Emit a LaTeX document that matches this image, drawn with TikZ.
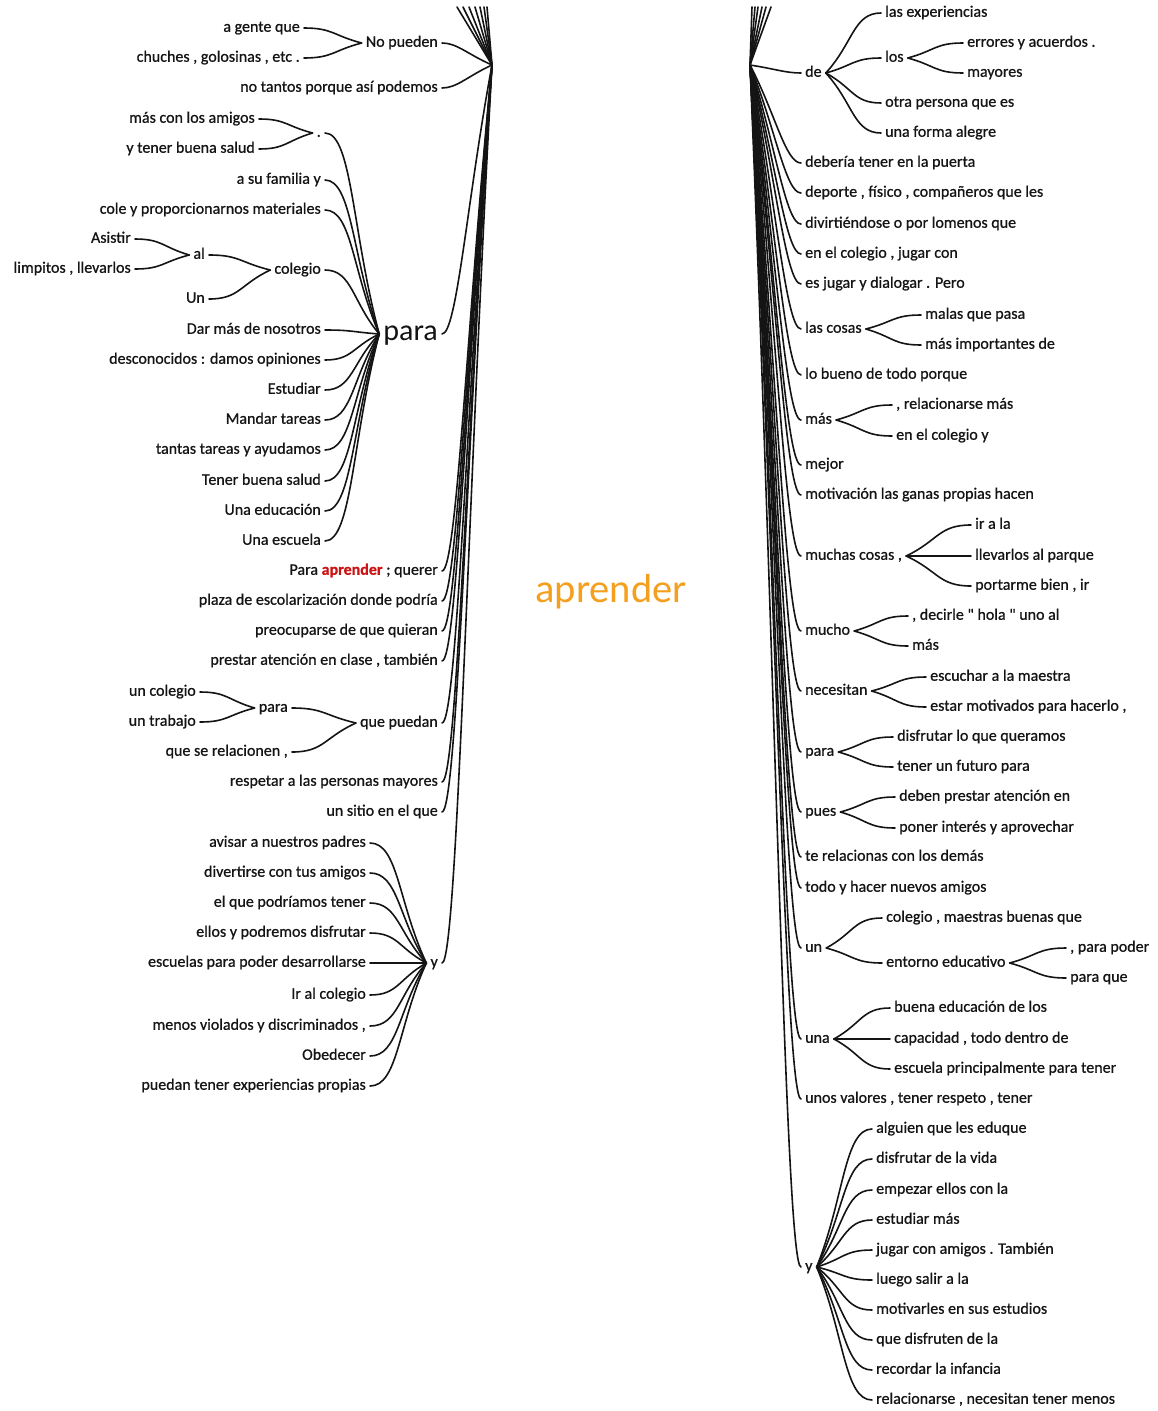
\documentclass[tikz,border=0pt]{standalone}
\usepackage{fontspec}
\setmainfont{Carlito}[FakeBold=0.8]
\newfontfamily\plainfont{Carlito}
\usetikzlibrary{calc}
\definecolor{aprcol}{RGB}{244,160,30}
\definecolor{redw}{RGB}{205,20,20}
\definecolor{ink}{RGB}{20,20,20}
\newcommand\lk[3][0.5]{\draw[lnk] (#2) .. controls ($(#2)!0.5!(#3)$) and ($(#2|-#3)!#1!(#3)$) .. (#3);}
\newcommand\sq{{\addfontfeatures{Ligatures=TeXOff}"}}
\begin{document}
\begin{tikzpicture}[x=1pt,y=-1pt,
 tx/.style={inner xsep=4pt, inner ysep=0pt, text height=11pt, text depth=3.5pt, font=\fontsize{16}{18}\selectfont, text=ink},
 lt/.style={tx,anchor=east},
 rt/.style={tx,anchor=west},
 lnk/.style={line width=1.6pt, draw=ink, line cap=round}]
\useasboundingbox (0,0) rectangle (1158,1411);
\coordinate (L) at (492,65);
\coordinate (R) at (750,65);
% central word
\node[font=\plainfont\fontsize{40.5}{42}\selectfont, text=aprcol] (root) at (611,592) {aprender};
% ---------- LEFT ----------
\node[lt] (nopueden) at (442,43) {No pueden};
\node[lt] (notantos) at (442,88) {no tantos porque así podemos};
\node[lt, font=\plainfont\fontsize{30}{32}\selectfont, text height=20pt, text depth=7pt] (para) at (442,334) {para};
\node[lt] (paraapr) at (442,571) {Para \textcolor{redw}{\textbf{aprender}} ; querer};
\node[lt] (plaza) at (442,601) {plaza de escolarización donde podría};
\node[lt] (preocup) at (442,631) {preocuparse de que quieran};
\node[lt] (prestar) at (442,661) {prestar atención en clase , también};
\node[lt] (quepuedan) at (442,723) {que puedan};
\node[lt] (respetar) at (442,782) {respetar a las personas mayores};
\node[lt] (unsitio) at (442,812) {un sitio en el que};
\node[lt] (ly) at (442,963) {y};
% No pueden
\node[lt] (agente) at (304,28) {a gente que};
\node[lt] (chuches) at (304,58) {chuches , golosinas , etc .};
% para
\node[lt] (dot) at (325,133) {.};
\node[lt] (familia) at (325,180) {a su familia y};
\node[lt] (cole) at (325,210) {cole y proporcionarnos materiales};
\node[lt] (colegio) at (325,270) {colegio};
\node[lt] (dar) at (325,330) {Dar más de nosotros};
\node[lt] (descon) at (325,360) {desconocidos : damos opiniones};
\node[lt] (estudiar) at (325,390) {Estudiar};
\node[lt] (mandar) at (325,420) {Mandar tareas};
\node[lt] (tantas) at (325,450) {tantas tareas y ayudamos};
\node[lt] (tenerbs) at (325,481) {Tener buena salud};
\node[lt] (educ) at (325,511) {Una educación};
\node[lt] (escuela) at (325,541) {Una escuela};
\node[lt] (masamigos) at (259,119) {más con los amigos};
\node[lt] (ytener) at (259,149) {y tener buena salud};
\node[lt] (al) at (209,255) {al};
\node[lt] (Un) at (209,299) {Un};
\node[lt] (asistir) at (135,239) {Asistir};
\node[lt] (limpitos) at (135,269) {limpitos , llevarlos};
% que puedan
\node[lt] (paraq) at (292,708) {para};
\node[lt] (relac) at (292,752) {que se relacionen ,};
\node[lt] (uncolegio) at (200,692) {un colegio};
\node[lt] (untrabajo) at (200,722) {un trabajo};
% y (left)
\node[lt] (avisar) at (370,843) {avisar a nuestros padres};
\node[lt] (divert) at (370,873) {divertirse con tus amigos};
\node[lt] (elque) at (370,903) {el que podríamos tener};
\node[lt] (ellos) at (370,933) {ellos y podremos disfrutar};
\node[lt] (escuelas) at (370,963) {escuelas para poder desarrollarse};
\node[lt] (iral) at (370,995) {Ir al colegio};
\node[lt] (menos) at (370,1026) {menos violados y discriminados ,};
\node[lt] (obedecer) at (370,1056) {Obedecer};
\node[lt] (puedan) at (370,1086) {puedan tener experiencias propias};
% ---------- RIGHT ----------
\node[rt] (de) at (801,73) {de};
\node[rt] (deberia) at (801,163) {debería tener en la puerta};
\node[rt] (deporte) at (801,193) {deporte , físico , compañeros que les};
\node[rt] (divirt) at (801,224) {divirtiéndose o por lomenos que};
\node[rt] (enel) at (801,254) {en el colegio , jugar con};
\node[rt] (esjugar) at (801,284) {es jugar y dialogar . Pero};
\node[rt] (lascosas) at (801,329) {las cosas};
\node[rt] (lobueno) at (801,375) {lo bueno de todo porque};
\node[rt] (mas) at (801,420) {más};
\node[rt] (mejor) at (801,465) {mejor};
\node[rt] (motiv) at (801,495) {motivación las ganas propias hacen};
\node[rt] (muchas) at (801,556) {muchas cosas ,};
\node[rt] (mucho) at (801,631) {mucho};
\node[rt] (necesitan) at (801,691) {necesitan};
\node[rt] (parar) at (801,752) {para};
\node[rt] (pues) at (801,812) {pues};
\node[rt] (terel) at (801,857) {te relacionas con los demás};
\node[rt] (todo) at (801,888) {todo y hacer nuevos amigos};
\node[rt] (un) at (801,948) {un};
\node[rt] (una) at (801,1039) {una};
\node[rt] (unos) at (801,1099) {unos valores , tener respeto , tener};
\node[rt] (ry) at (801,1267) {y};
% de
\node[rt] (lasexp) at (881,13) {las experiencias};
\node[rt] (los) at (881,58) {los};
\node[rt] (otra) at (881,103) {otra persona que es};
\node[rt] (unaforma) at (881,133) {una forma alegre};
\node[rt] (errores) at (963,43) {errores y acuerdos .};
\node[rt] (mayores) at (963,73) {mayores};
% las cosas
\node[rt] (malas) at (921,315) {malas que pasa};
\node[rt] (masimp) at (921,345) {más importantes de};
% más
\node[rt] (relacmas) at (892,405) {, relacionarse más};
\node[rt] (enelcol) at (892,436) {en el colegio y};
% muchas cosas
\node[rt] (irala) at (971,525) {ir a la};
\node[rt] (llevarlos) at (971,556) {llevarlos al parque};
\node[rt] (portarme) at (971,586) {portarme bien , ir};
% mucho
\node[rt] (decirle) at (908,616) {, decirle \sq{} hola \sq{} uno al};
\node[rt] (mastwo) at (908,646) {más};
% necesitan
\node[rt] (escuchar) at (926,677) {escuchar a la maestra};
\node[rt] (estar) at (926,707) {estar motivados para hacerlo ,};
% para (right)
\node[rt] (disfrutar) at (893,737) {disfrutar lo que queramos};
\node[rt] (tenerfut) at (893,767) {tener un futuro para};
% pues
\node[rt] (deben) at (895,797) {deben prestar atención en};
\node[rt] (poner) at (895,828) {poner interés y aprovechar};
% un
\node[rt] (colegiom) at (882,918) {colegio , maestras buenas que};
\node[rt] (entorno) at (882,963) {entorno educativo};
\node[rt] (parapoder) at (1066,948) {, para poder};
\node[rt] (paraque) at (1066,978) {para que};
% una
\node[rt] (buena) at (890,1008) {buena educación de los};
\node[rt] (capacidad) at (890,1039) {capacidad , todo dentro de};
\node[rt] (escuelap) at (890,1069) {escuela principalmente para tener};
% y (right)
\node[rt] (alguien) at (872,1129) {alguien que les eduque};
\node[rt] (disvida) at (872,1159) {disfrutar de la vida};
\node[rt] (empezar) at (872,1190) {empezar ellos con la};
\node[rt] (estudiar2) at (872,1220) {estudiar más};
\node[rt] (jugar) at (872,1250) {jugar con amigos . También};
\node[rt] (luego) at (872,1280) {luego salir a la};
\node[rt] (motivarles) at (872,1310) {motivarles en sus estudios};
\node[rt] (quedisf) at (872,1340) {que disfruten de la};
\node[rt] (recordar) at (872,1370) {recordar la infancia};
\node[rt] (relacionarse) at (872,1400) {relacionarse , necesitan tener menos};
% ---------- CONNECTORS ----------
% lines leaving the picture at the top
\foreach \i/\xx in {1/457,2/463,3/469,4/475,5/480,6/484,7/487}{
  \coordinate (lt\i) at (\xx,7); \draw[lnk] (L) -- (lt\i);}
\foreach \i/\xx in {1/752,2/755,3/758,4/762,5/766,6/771}{
  \coordinate (rt\i) at (\xx,7); \draw[lnk] (R) -- (rt\i);}
% left hub
\foreach \n in {nopueden,notantos,para,paraapr,plaza,preocup,prestar,quepuedan,respetar,unsitio,ly}{
  \lk[0.7]{L}{\n.east}}
% left subtrees
\foreach \n in {agente,chuches}{\lk{nopueden.west}{\n.east}}
\foreach \n in {dot,familia,cole,colegio,dar,descon,estudiar,mandar,tantas,tenerbs,educ,escuela}{\lk{para.west}{\n.east}}
\foreach \n in {masamigos,ytener}{\lk{dot.west}{\n.east}}
\foreach \n in {al,Un}{\lk{colegio.west}{\n.east}}
\foreach \n in {asistir,limpitos}{\lk{al.west}{\n.east}}
\foreach \n in {paraq,relac}{\lk{quepuedan.west}{\n.east}}
\foreach \n in {uncolegio,untrabajo}{\lk{paraq.west}{\n.east}}
\foreach \n in {avisar,divert,elque,ellos,escuelas,iral,menos,obedecer,puedan}{\lk{ly.west}{\n.east}}
% right hub
\foreach \n in {de,deberia,deporte,divirt,enel,esjugar,lascosas,lobueno,mas,mejor,motiv,muchas,mucho,necesitan,parar,pues,terel,todo,un,una,unos,ry}{
  \lk[0.7]{R}{\n.west}}
% right subtrees
\foreach \n in {lasexp,los,otra,unaforma}{\lk{de.east}{\n.west}}
\foreach \n in {errores,mayores}{\lk{los.east}{\n.west}}
\foreach \n in {malas,masimp}{\lk{lascosas.east}{\n.west}}
\foreach \n in {relacmas,enelcol}{\lk{mas.east}{\n.west}}
\foreach \n in {irala,llevarlos,portarme}{\lk{muchas.east}{\n.west}}
\foreach \n in {decirle,mastwo}{\lk{mucho.east}{\n.west}}
\foreach \n in {escuchar,estar}{\lk{necesitan.east}{\n.west}}
\foreach \n in {disfrutar,tenerfut}{\lk{parar.east}{\n.west}}
\foreach \n in {deben,poner}{\lk{pues.east}{\n.west}}
\foreach \n in {colegiom,entorno}{\lk{un.east}{\n.west}}
\foreach \n in {parapoder,paraque}{\lk{entorno.east}{\n.west}}
\foreach \n in {buena,capacidad,escuelap}{\lk{una.east}{\n.west}}
\foreach \n in {alguien,disvida,empezar,estudiar2,jugar,luego,motivarles,quedisf,recordar,relacionarse}{\lk{ry.east}{\n.west}}
\end{tikzpicture}
\end{document}
